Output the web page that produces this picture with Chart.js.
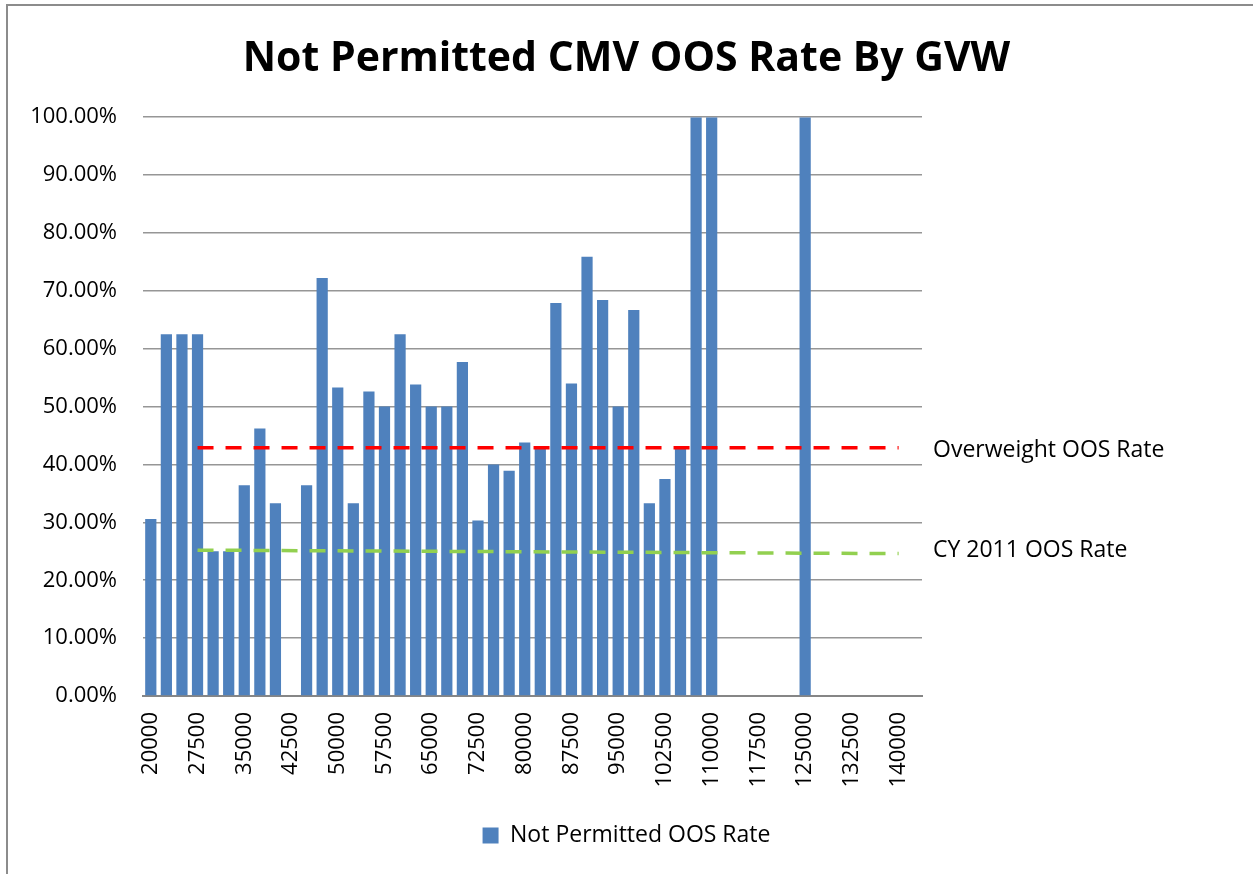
<!DOCTYPE html>
<html>
<head>
<meta charset="utf-8">
<title>Not Permitted CMV OOS Rate By GVW</title>
<script src="https://cdn.jsdelivr.net/npm/chart.js@4.4.1/dist/chart.umd.min.js"></script>
<style>
  html, body { margin: 0; padding: 0; background: #fff; }
  #wrap { position: relative; width: 1253px; height: 874px; overflow: hidden; }
  #frame { position: absolute; left: 6px; top: 4px; width: 1300px; height: 900px;
           border-left: 2px solid #8c8c8c; border-top: 2px solid #8c8c8c; }
  #oosChart { position: absolute; left: 0; top: 0; }
</style>
</head>
<body>
<div id="wrap">
  <div id="frame"></div>
  <canvas id="oosChart" width="1253" height="874"></canvas>
</div>
<script>
// GVW categories (lbs)
var gvwLabels = [
    '20000', '22500', '25000', '27500', '30000', '32500', '35000', '37500', '40000', '42500',
    '45000', '47500', '50000', '52500', '55000', '57500', '60000', '62500', '65000', '67500',
    '70000', '72500', '75000', '77500', '80000', '82500', '85000', '87500', '90000', '92500',
    '95000', '97500', '100000', '102500', '105000', '107500', '110000', '112500', '115000', '117500',
    '120000', '122500', '125000', '127500', '130000', '132500', '135000', '137500', '140000', '142500'
];

// Not permitted OOS rate, percent
var notPermittedRate = [
    30.6, 62.5, 62.5, 62.5, 25.0, 25.0, 36.4, 46.2, 33.3, null,
    36.4, 72.2, 53.3, 33.3, 52.6, 50.0, 62.5, 53.8, 50.0, 50.0,
    57.7, 30.3, 40.0, 38.9, 43.8, 42.9, 67.9, 54.0, 75.9, 68.4,
    50.0, 66.7, 33.3, 37.5, 42.9, 100, 100, null, null, null,
    null, null, 100, null, null, null, null, null, null, null
];

// reference lines (start / end points)
var overweightRate = [{ x: '27500', y: 42.9 }, { x: '140000', y: 42.9 }];
var cy2011Rate = [{ x: '27500', y: 25.2 }, { x: '140000', y: 24.6 }];

var yTicks = [0, 10, 20, 30, 40, 50, 60, 70, 80, 90, 100];

var fontFamily = '"Open Sans", "Liberation Sans", sans-serif';

// text boxes next to the reference lines
var sideLabels = {
    id: 'sideLabels',
    afterDatasetsDraw: function(chart) {
        var ctx = chart.ctx;
        var yScale = chart.scales.y;
        var left = chart.chartArea.right + 11;
        ctx.save();
        ctx.font = '23px ' + fontFamily;
        ctx.fillStyle = '#000';
        ctx.textAlign = 'left';
        ctx.textBaseline = 'middle';
        ctx.fillText('Overweight OOS Rate', left, yScale.getPixelForValue(overweightRate[1].y) + 3);
        ctx.fillText('CY 2011 OOS Rate', left, yScale.getPixelForValue(cy2011Rate[1].y) - 3);
        ctx.restore();
    }
};

window.onload = function() {
    var ctx = document.getElementById('oosChart').getContext('2d');
    var oosChart = new Chart(ctx, {
        type: 'bar',
        data: {
            labels: gvwLabels,
            datasets: [{
                type: 'line',
                label: 'Overweight OOS Rate',
                data: overweightRate,
                borderColor: '#FF0000',
                borderWidth: 3.5,
                borderDash: [16, 12],
                pointRadius: 0,
                fill: false,
                order: 0
            }, {
                type: 'line',
                label: 'CY 2011 OOS Rate',
                data: cy2011Rate,
                borderColor: '#92D050',
                borderWidth: 3.5,
                borderDash: [16, 12],
                pointRadius: 0,
                fill: false,
                order: 1
            }, {
                label: 'Not Permitted OOS Rate',
                data: notPermittedRate,
                backgroundColor: '#4F81BD',
                borderWidth: 0,
                categoryPercentage: 1.0,
                barPercentage: 0.72,
                order: 2
            }]
        },
        options: {
            responsive: false,
            animation: false,
            layout: { padding: { left: 0, right: 0, top: 0, bottom: 17 } },
            plugins: {
                title: {
                    display: true,
                    text: 'Not Permitted CMV OOS Rate By GVW',
                    color: '#000',
                    font: { family: fontFamily, size: 41, weight: 'bold' },
                    padding: { top: 35, bottom: 33 }
                },
                legend: {
                    position: 'bottom',
                    labels: {
                        color: '#000',
                        font: { family: fontFamily, size: 23 },
                        boxWidth: 16,
                        boxHeight: 16,
                        filter: function(item) { return item.text === 'Not Permitted OOS Rate'; }
                    }
                },
                tooltip: { enabled: false }
            },
            scales: {
                x: {
                    grid: { display: false, drawTicks: false },
                    border: { display: true, color: '#868686', width: 2 },
                    ticks: {
                        autoSkip: false,
                        maxRotation: 90,
                        minRotation: 90,
                        padding: 16,
                        color: '#000',
                        font: { family: fontFamily, size: 22 },
                        callback: function(val, i) { return i % 3 === 0 ? gvwLabels[i] : ''; }
                    },
                    afterFit: function(scale) { scale.height = 118; }
                },
                y: {
                    min: 0,
                    max: 100,
                    grid: { color: '#969696', lineWidth: 1.5, drawTicks: false },
                    border: { display: false },
                    afterBuildTicks: function(scale) {
                        scale.ticks = yTicks.map(function(v) { return { value: v }; });
                    },
                    ticks: {
                        padding: 26,
                        color: '#000',
                        font: { family: fontFamily, size: 22 },
                        callback: function(v) { return v.toFixed(2) + '%'; }
                    },
                    afterFit: function(scale) { scale.width = 143; }
                },
                // empty space on the right for the line captions
                yRight: {
                    position: 'right',
                    display: true,
                    grid: { display: false },
                    border: { display: false },
                    ticks: { display: false },
                    afterFit: function(scale) { scale.width = 331; }
                }
            }
        },
        plugins: [sideLabels]
    });
};
</script>
</body>
</html>
